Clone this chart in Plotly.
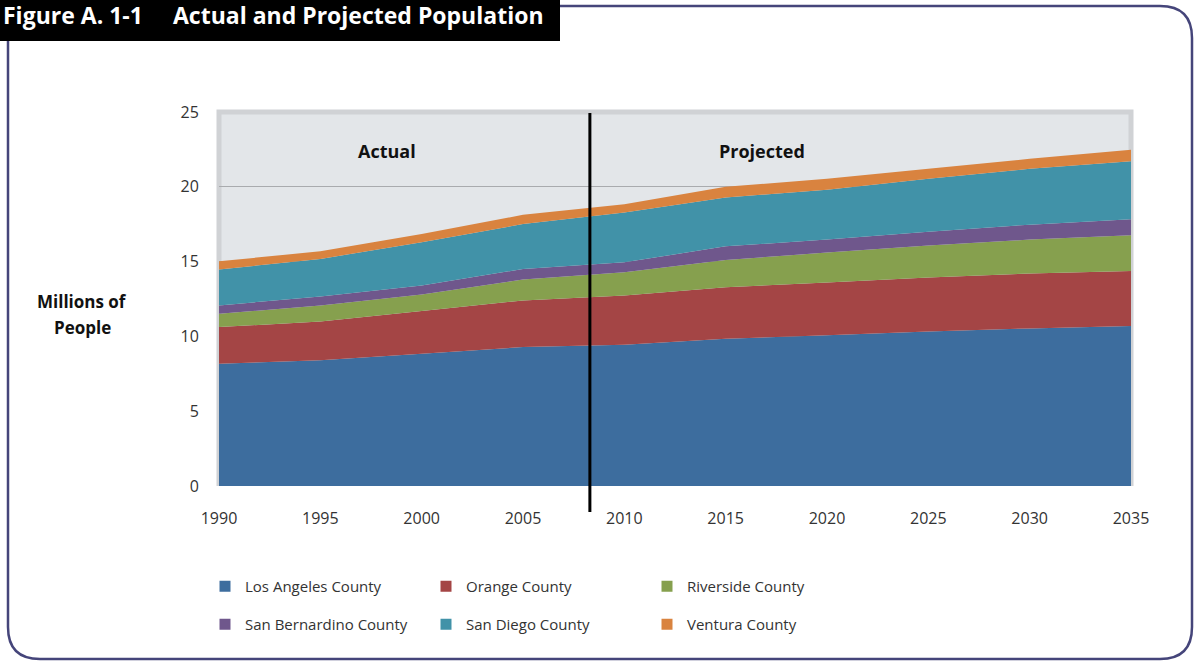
import plotly.graph_objects as go

years = [1990, 1995, 2000, 2005, 2010, 2015, 2020, 2025, 2030, 2035]
los_angeles = [8.18, 8.40, 8.84, 9.29, 9.44, 9.84, 10.07, 10.33, 10.53, 10.70]
orange = [2.44, 2.60, 2.85, 3.11, 3.29, 3.45, 3.53, 3.60, 3.67, 3.68]
riverside = [0.89, 1.07, 1.11, 1.40, 1.56, 1.82, 2.00, 2.14, 2.27, 2.38]
san_bernardino = [0.56, 0.60, 0.60, 0.71, 0.66, 0.91, 0.87, 0.93, 1.00, 1.07]
san_diego = [2.40, 2.51, 2.89, 3.00, 3.34, 3.27, 3.33, 3.53, 3.73, 3.87]
ventura = [0.55, 0.51, 0.55, 0.62, 0.55, 0.71, 0.73, 0.67, 0.67, 0.77]

series_names = ["Los Angeles County", "Orange County", "Riverside County",
                "San Bernardino County", "San Diego County", "Ventura County"]
series_values = [los_angeles, orange, riverside, san_bernardino, san_diego, ventura]
colors = ["#3d6d9e", "#a44545", "#86a04e", "#6f578c", "#4192a8", "#d9833f"]

x_ticks = [1990, 1995, 2000, 2005, 2010, 2015, 2020, 2025, 2030, 2035]
y_ticks = [0, 5, 10, 15, 20, 25]
divider_year = 2008.3

W, H = 1195, 662
L, R, T, B = 219, 1131, 112, 486
FONT = "Open Sans"


def px(xp):
    return (xp - L) / (R - L)


def py(yp):
    return (B - yp) / (B - T)


fig = go.Figure()
for name, vals, col in zip(series_names, series_values, colors):
    fig.add_trace(go.Scatter(
        x=years, y=vals, stackgroup="one", mode="none",
        fillcolor=col, name=name, showlegend=False))

for i, (name, col) in enumerate(zip(series_names, colors)):
    fig.add_trace(go.Scatter(
        x=[None], y=[None], mode="markers", name=name,
        marker=dict(symbol="square", size=11, color=col, line=dict(width=0)),
        legend="legend" if i < 3 else "legend2"))

shapes = []
l, r, t, b, rad = 8, 1192, 6, 659, 32
path = (f"M {px(l+rad)},{py(t)} L {px(r-rad)},{py(t)} Q {px(r)},{py(t)} {px(r)},{py(t+rad)} "
        f"L {px(r)},{py(b-rad)} Q {px(r)},{py(b)} {px(r-rad)},{py(b)} "
        f"L {px(l+rad)},{py(b)} Q {px(l)},{py(b)} {px(l)},{py(b-rad)} "
        f"L {px(l)},{py(t+rad)} Q {px(l)},{py(t)} {px(l+rad)},{py(t)} Z")
shapes.append(dict(type="path", path=path, xref="paper", yref="paper",
                   line=dict(color="#45457a", width=2.5), layer="below"))
shapes.append(dict(type="rect", xref="paper", yref="paper",
                   x0=px(-5), x1=px(560), y0=py(41), y1=py(-5),
                   fillcolor="#000000", line=dict(width=0)))
# bevelled plot frame (left, top, right)
shapes.append(dict(type="path", xref="paper", yref="paper", layer="below",
                   path="M 0,0 L 0,1 L 1,1 L 1,0",
                   line=dict(color="#d0d2d5", width=5)))
shapes.append(dict(type="line", xref="x", yref="paper",
                   x0=divider_year, x1=divider_year, y0=py(512), y1=py(113),
                   line=dict(color="#000000", width=3)))

annotations = [
    dict(text="<b>Figure A. 1-1</b>", xref="paper", yref="paper",
         x=px(145), y=py(15), xanchor="right", yanchor="middle", showarrow=False,
         font=dict(family=FONT, size=23, color="white")),
    dict(text="<b>Actual and Projected Population</b>", xref="paper", yref="paper",
         x=px(171), y=py(15), xanchor="left", yanchor="middle", showarrow=False,
         font=dict(family=FONT, size=23, color="white")),
    dict(text="<b>Millions of</b>", xref="paper", yref="paper",
         x=px(82), y=py(301), xanchor="center", yanchor="middle", showarrow=False,
         font=dict(family=FONT, size=17, color="#111")),
    dict(text="<b>People</b>", xref="paper", yref="paper",
         x=px(82), y=py(327), xanchor="center", yanchor="middle", showarrow=False,
         font=dict(family=FONT, size=17, color="#111")),
    dict(text="<b>Actual</b>", xref="x", yref="y", x=1998.3, y=22.4,
         showarrow=False, font=dict(family=FONT, size=18, color="#111")),
    dict(text="<b>Projected</b>", xref="x", yref="y", x=2016.8, y=22.4,
         showarrow=False, font=dict(family=FONT, size=18, color="#111")),
]

fig.update_layout(
    width=W, height=H,
    margin=dict(l=L, r=W - R, t=T, b=H - B),
    paper_bgcolor="white", plot_bgcolor="#e3e6e9",
    font=dict(family=FONT, size=15, color="#333"),
    shapes=shapes, annotations=annotations,
    xaxis=dict(range=[1990, 2035], tickvals=x_ticks, showgrid=False, zeroline=False,
               showline=False, ticks="outside", ticklen=18, tickcolor="rgba(0,0,0,0)",
               tickfont=dict(size=16, color="#333")),
    yaxis=dict(range=[0, 25], tickvals=y_ticks, showgrid=True, gridcolor="#a9abae",
               gridwidth=1, zeroline=False, showline=False, ticks="outside", ticklen=16,
               tickcolor="rgba(0,0,0,0)", tickfont=dict(size=16, color="#333")),
    legend=dict(orientation="h", x=px(205), y=py(570), xanchor="left", yanchor="top",
                traceorder="normal", entrywidth=176, entrywidthmode="pixels",
                itemwidth=30, font=dict(size=15, color="#333"), bgcolor="rgba(0,0,0,0)"),
    legend2=dict(orientation="h", x=px(205), y=py(608), xanchor="left", yanchor="top",
                 traceorder="normal", entrywidth=176, entrywidthmode="pixels",
                 itemwidth=30, font=dict(size=15, color="#333"), bgcolor="rgba(0,0,0,0)"),
    hovermode=False,
)

fig.write_html("out.html", config={"displayModeBar": False},
               post_script="document.body.style.margin='0';")
